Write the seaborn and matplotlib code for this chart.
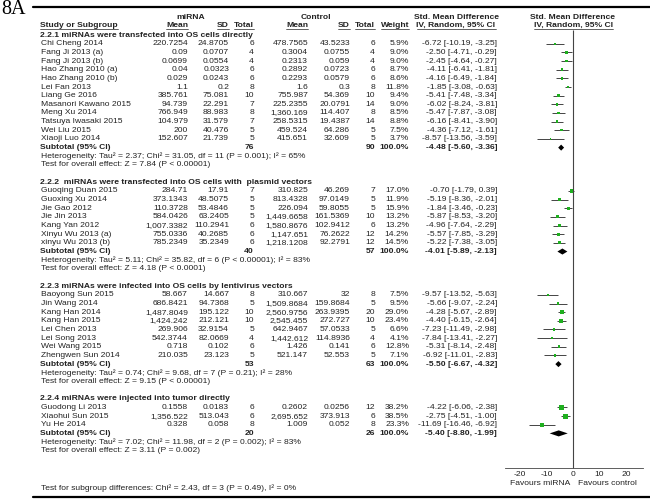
import numpy as np
import pandas as pd
import matplotlib; matplotlib.use("Agg")
import matplotlib.pyplot as plt
import seaborn as sns

# ── DATA ──────────────────────────────────────────────────────────────────────
GROUP_TITLES = [
    "2.2.1 miRNAs were transfected into OS cells directly",
    "2.2.2  miRNAs were transfected into OS cells with  plasmid vectors",
    "2.2.3 miRNAs were infected into OS cells by lentivirus vectors",
    "2.2.4 miRNAs were injected into tumor directly",
]
GROUP = [0]*12 + [1]*7 + [2]*8 + [3]*3
STUDY = [
    "Chi Cheng 2014", "Fang Ji 2013 (a)", "Fang Ji 2013 (b)", "Hao Zhang 2010 (a)",
    "Hao Zhang 2010 (b)", "Lei Fan 2013", "Liang Ge 2016", "Masanori Kawano 2015",
    "Meng Xu 2014", "Tatsuya Iwasaki 2015", "Wei Liu 2015", "Xiaoji Luo 2014",
    "Guoqing Duan 2015", "Guoxing Xu 2014", "Jie Gao 2012", "Jie Jin 2013",
    "Kang Yan 2012", "Xinyu Wu 2013 (a)", "xinyu Wu 2013 (b)",
    "Baoyong Sun 2015", "Jin Wang 2014", "Kang Han 2014", "Kang Han 2015",
    "Lei Chen 2013", "Lei Song 2013", "Wei Wang 2015", "Zhengwen Sun 2014",
    "Guodong Li 2013", "Xiaohui Sun 2015", "Yu He 2014",
]
MEAN_MIR = [220.7254, 0.09, 0.0699, 0.04, 0.029, 1.1, 385.761, 94.739, 766.949, 104.979, 200, 152.607,
            284.71, 373.1343, 110.3728, 584.0426, 1007.3382, 755.0336, 785.2349,
            58.667, 686.8421, 1487.8049, 1424.242, 269.906, 542.3744, 0.718, 210.035,
            0.1558, 1356.522, 0.328]
SD_MIR = [24.8705, 0.0707, 0.0554, 0.0323, 0.0243, 0.2, 75.081, 22.291, 88.983, 31.579, 40.476, 21.739,
          17.91, 48.5075, 53.4846, 63.2405, 110.2941, 40.2685, 35.2349,
          14.667, 94.7368, 195.122, 212.121, 32.9154, 82.0669, 0.102, 23.123,
          0.0183, 513.043, 0.058]
N_MIR = [6, 4, 4, 6, 6, 8, 10, 7, 8, 7, 5, 5,
         7, 5, 5, 5, 6, 6, 6,
         8, 5, 10, 10, 5, 4, 6, 5,
         6, 6, 8]
MEAN_CTL = [478.7565, 0.3004, 0.2313, 0.2892, 0.2293, 1.6, 755.987, 225.2355, 1360.169, 258.5315, 459.524, 415.651,
            310.825, 813.4328, 226.094, 1449.6658, 1580.8676, 1147.651, 1218.1208,
            310.667, 1509.8684, 2560.9756, 2545.455, 642.9467, 1442.612, 1.426, 521.147,
            0.2602, 2695.652, 1.009]
SD_CTL = [43.5233, 0.0755, 0.059, 0.0723, 0.0579, 0.3, 54.369, 20.0791, 114.407, 19.4387, 64.286, 32.609,
          46.269, 97.0149, 59.8055, 161.5369, 102.9412, 76.2622, 92.2791,
          32, 159.8684, 263.9395, 272.727, 57.0533, 114.8936, 0.141, 52.553,
          0.0256, 373.913, 0.052]
N_CTL = [6, 4, 4, 6, 6, 8, 10, 14, 8, 14, 5, 5,
         7, 5, 5, 10, 6, 12, 12,
         8, 5, 20, 10, 5, 4, 6, 5,
         12, 6, 8]
WEIGHT = [5.9, 9.0, 9.0, 8.7, 8.6, 11.8, 9.4, 9.0, 8.5, 8.8, 7.5, 3.7,
          17.0, 11.9, 15.9, 13.2, 13.2, 14.2, 14.5,
          7.5, 9.5, 29.0, 23.4, 6.6, 4.1, 12.8, 7.1,
          38.2, 38.5, 23.3]
SMD = [-6.72, -2.50, -2.45, -4.11, -4.16, -1.85, -5.41, -6.02, -5.47, -6.16, -4.36, -8.57,
       -0.70, -5.19, -1.84, -5.87, -4.96, -5.57, -5.22,
       -9.57, -5.66, -4.28, -4.40, -7.23, -7.84, -5.31, -6.92,
       -4.22, -2.75, -11.69]
CI_LO = [-10.19, -4.71, -4.64, -6.41, -6.49, -3.08, -7.48, -8.24, -7.87, -8.41, -7.12, -13.56,
         -1.79, -8.36, -3.46, -8.53, -7.64, -7.85, -7.38,
         -13.52, -9.07, -5.67, -6.15, -11.49, -13.41, -8.14, -11.01,
         -6.06, -4.51, -16.46]
CI_HI = [-3.25, -0.29, -0.27, -1.81, -1.84, -0.63, -3.34, -3.81, -3.08, -3.90, -1.61, -3.59,
         0.39, -2.01, -0.23, -3.20, -2.29, -3.29, -3.05,
         -5.63, -2.24, -2.89, -2.64, -2.98, -2.27, -2.48, -2.83,
         -2.38, -1.00, -6.92]

SUB_N_MIR = [76, 40, 53, 20]
SUB_N_CTL = [90, 57, 63, 26]
SUB_SMD = [-4.48, -4.01, -5.50, -5.40]
SUB_LO = [-5.60, -5.89, -6.67, -8.80]
SUB_HI = [-3.36, -2.13, -4.32, -1.99]
SUB_HET = [
    "Heterogeneity: Tau² = 2.37; Chi² = 31.05, df = 11 (P = 0.001); I² = 65%",
    "Heterogeneity: Tau² = 5.11; Chi² = 35.82, df = 6 (P < 0.00001); I² = 83%",
    "Heterogeneity: Tau² = 0.74; Chi² = 9.68, df = 7 (P = 0.21); I² = 28%",
    "Heterogeneity: Tau² = 7.02; Chi² = 11.98, df = 2 (P = 0.002); I² = 83%",
]
SUB_Z = [
    "Test for overall effect: Z = 7.84 (P < 0.00001)",
    "Test for overall effect: Z = 4.18 (P < 0.0001)",
    "Test for overall effect: Z = 9.15 (P < 0.00001)",
    "Test for overall effect: Z = 3.11 (P = 0.002)",
]
SUBGROUP_TEST = "Test for subgroup differences: Chi² = 2.43, df = 3 (P = 0.49), I² = 0%"
XTICKS = [-20, -10, 0, 10, 20]

# ── STYLE / LAYOUT ────────────────────────────────────────────────────────────
sns.set_style("white")
plt.rcParams["font.family"] = ["Liberation Sans", "DejaVu Sans"]
W, H = 650, 503
ROW_H, Y0 = 8.66, 43.7        # px per row, px of first study row
FS = 6.1
TXT = "#222222"
GREEN = "#1FAF1F"
LINE = "#444444"

# column anchors (px): right-aligned numbers
X_STUDY = 40
X_M1, X_S1, X_N1 = 188, 229, 254
X_M2, X_S2, X_N2 = 308, 350, 375
X_W, X_SMD = 409, 497


def fmt(v):
    # thousands separator, no trailing zeros (as printed in the table)
    return f"{int(v):,}" if v == int(v) else f"{v:,}"


fig = plt.figure(figsize=(W / 100, H / 100), dpi=100)
ax = fig.add_axes([0, 0, 1, 1])
ax.set_xlim(0, W)
ylim = ((H - Y0) / ROW_H, -Y0 / ROW_H)
ax.set_ylim(*ylim)
ax.axis("off")

fax = fig.add_axes([505 / W, 0, 138 / W, 1])
fax.set_xlim(-25.66, 26.4)
fax.set_ylim(*ylim)
fax.patch.set_alpha(0)


def put(x, r, s, ha="right", bold=False, **kw):
    return ax.text(x, r, s, ha=ha, va="center", fontsize=FS, color=TXT,
                   fontweight="bold" if bold else "normal", **kw)


# ── HEADER ────────────────────────────────────────────────────────────────────
ax.text(1, -5.0, "8A", ha="left", va="top", fontsize=14.5, color="black",
        family=["Liberation Serif", "DejaVu Serif"])
ax.plot([33, W], [-4.24, -4.24], color="black", lw=1.6)
ax.plot([33, W], [52.35, 52.35], color="black", lw=1.6)

HR1, HR2 = -3.08, -2.1
put(191, HR1, "miRNA", ha="center", bold=True)
put(316, HR1, "Control", ha="center", bold=True)
put(456, HR1, "Std. Mean Difference", ha="center", bold=True)
put(573, HR1, "Std. Mean Difference", ha="center", bold=True)
underlined = [
    put(X_STUDY, HR2, "Study or Subgroup", ha="left", bold=True),
    put(X_M1, HR2, "Mean", bold=True), put(X_S1, HR2, "SD", bold=True),
    put(X_N1, HR2, "Total", bold=True), put(X_M2, HR2, "Mean", bold=True),
    put(X_S2, HR2, "SD", bold=True), put(X_N2, HR2, "Total", bold=True),
    put(X_W, HR2, "Weight", bold=True),
    put(456, HR2, "IV, Random, 95% CI", ha="center", bold=True),
    put(573, HR2, "IV, Random, 95% CI", ha="center", bold=True),
]

# ── TABLE ROWS ────────────────────────────────────────────────────────────────
df = pd.DataFrame({"group": GROUP, "study": STUDY, "m1": MEAN_MIR, "s1": SD_MIR,
                   "n1": N_MIR, "m2": MEAN_CTL, "s2": SD_CTL, "n2": N_CTL,
                   "weight": WEIGHT, "smd": SMD, "lo": CI_LO, "hi": CI_HI})
rows, sub_rows = [], []
r = -1
for g, title in enumerate(GROUP_TITLES):
    put(X_STUDY, r, title, ha="left", bold=True)
    sub = df[df["group"] == g]
    for _, row in sub.iterrows():
        r += 1
        rows.append(r)
        put(X_STUDY + 1, r, row["study"], ha="left")
        put(X_M1, r, fmt(row["m1"]))
        put(X_S1, r, fmt(row["s1"]))
        put(X_N1, r, f"{int(row['n1'])}")
        put(X_M2, r, fmt(row["m2"]))
        put(X_S2, r, fmt(row["s2"]))
        put(X_N2, r, f"{int(row['n2'])}")
        put(X_W, r, f"{row['weight']:.1f}%")
        put(X_SMD, r, f"{row['smd']:.2f} [{row['lo']:.2f}, {row['hi']:.2f}]")
    r += 1
    sub_rows.append(r)
    put(X_STUDY, r, "Subtotal (95% CI)", ha="left", bold=True)
    put(X_N1, r, str(SUB_N_MIR[g]), bold=True)
    put(X_N2, r, str(SUB_N_CTL[g]), bold=True)
    put(X_W, r, "100.0%", bold=True)
    put(X_SMD, r, f"{SUB_SMD[g]:.2f} [{SUB_LO[g]:.2f}, {SUB_HI[g]:.2f}]", bold=True)
    put(X_STUDY + 1, r + 1, SUB_HET[g], ha="left")
    put(X_STUDY + 1, r + 2, SUB_Z[g], ha="left")
    r += 4

put(X_STUDY + 1, 51.3, SUBGROUP_TEST, ha="left")
df["row"] = rows

# underline header labels
fig.canvas.draw()
rend = fig.canvas.get_renderer()
inv = ax.transData.inverted()
for t in underlined:
    bb = t.get_window_extent(rend)
    (x0, _), (x1, _) = inv.transform([(bb.x0, 0), (bb.x1, 0)])
    ax.plot([x0, x1], [-1.66, -1.66], color=TXT, lw=0.5)

# ── FOREST PLOT ───────────────────────────────────────────────────────────────
fax.vlines(0, -1.6, 49, color=LINE, lw=0.8)
fax.hlines(df["row"], df["lo"], df["hi"], color=LINE, lw=0.7)
sns.scatterplot(data=df, x="smd", y="row", size="weight", sizes=(1.2, 13),
                size_norm=(3.7, 38.5), marker="s", color=GREEN, linewidth=0,
                legend=False, ax=fax, zorder=3)
for g in range(len(GROUP_TITLES)):
    yr = sub_rows[g]
    fax.fill([SUB_LO[g], SUB_SMD[g], SUB_HI[g], SUB_SMD[g]],
             [yr, yr - 0.35, yr, yr + 0.35], color="black", lw=0)

fax.set_xticks(XTICKS)
fax.set_xticklabels([str(v) for v in XTICKS])
fax.set_yticks([])
fax.set_xlabel(""); fax.set_ylabel("")
for s in ["top", "left", "right"]:
    fax.spines[s].set_visible(False)
fax.spines["bottom"].set_position(("data", 49))
fax.spines["bottom"].set_color(LINE)
fax.spines["bottom"].set_linewidth(0.6)
fax.tick_params(axis="x", direction="inout", length=3, width=0.6, pad=0.8,
                colors=LINE, labelsize=FS, labelcolor=TXT)
fax.text(-1.2, 50.8, "Favours miRNA", ha="right", va="center", fontsize=FS, color=TXT)
fax.text(1.8, 50.8, "Favours control", ha="left", va="center", fontsize=FS, color=TXT)

fig.savefig("out.png", dpi=100)
